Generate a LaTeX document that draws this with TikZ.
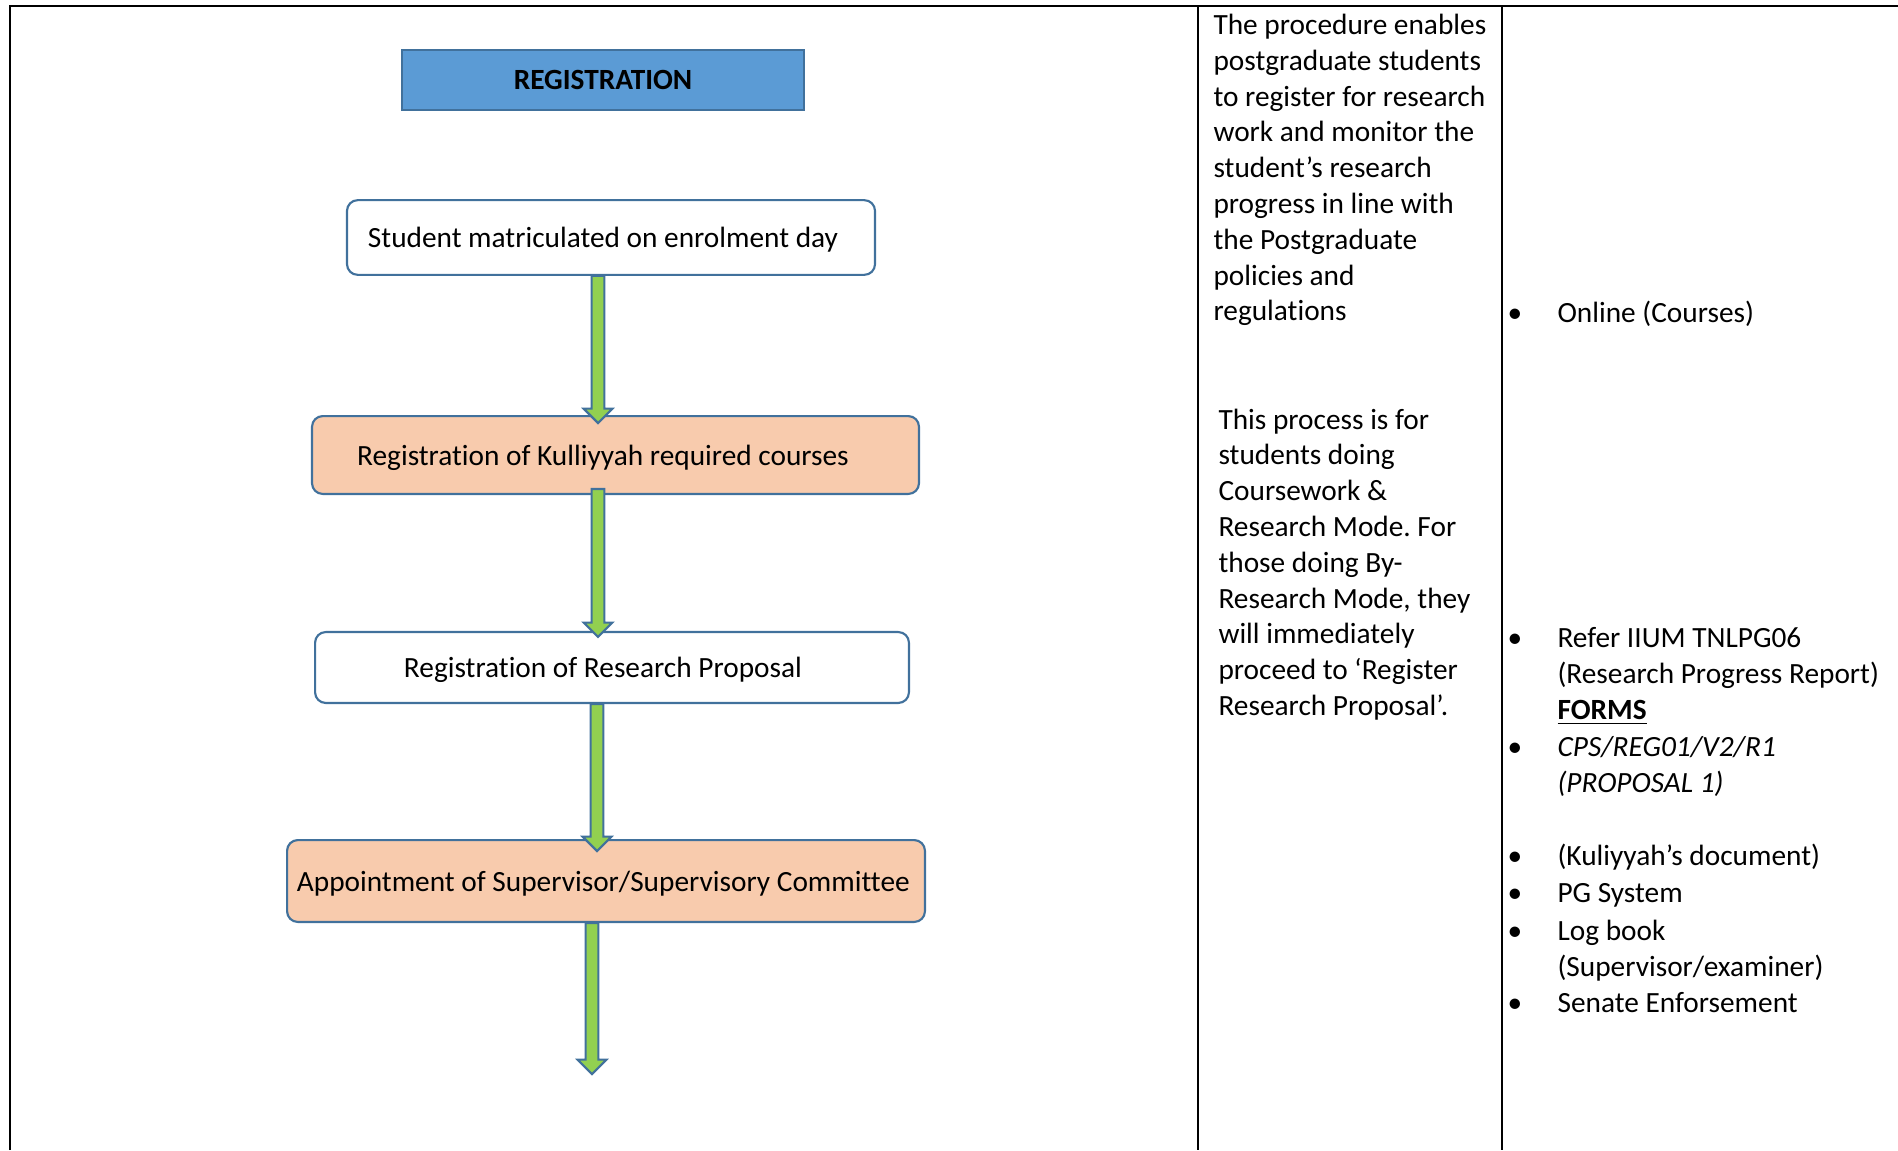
\documentclass[tikz,border=0pt]{standalone}
\usepackage{fontspec}
\setmainfont{Carlito}[RawFeature={-liga;-clig;-dlig;-calt}]
\frenchspacing
\usetikzlibrary{calc}
\definecolor{regblue}{RGB}{91,155,213}
\definecolor{edgeblue}{RGB}{65,113,156}
\definecolor{peach}{RGB}{248,203,173}
\definecolor{arrgreen}{RGB}{146,208,80}
\tikzset{
  every node/.style={font=\fontsize{11pt}{13.4pt}\selectfont, inner sep=0pt},
  stepbox/.style={draw=edgeblue, line width=0.8pt, rounded corners=4pt, fill=white, text height=10pt, text depth=2.5pt},
  peachbox/.style={stepbox, fill=peach},
  titlebox/.style={draw=edgeblue, line width=0.8pt, fill=regblue, font=\fontsize{11pt}{13.4pt}\selectfont\bfseries},
  arrowstyle/.style={draw=edgeblue, line width=0.8pt, fill=arrgreen},
  txt/.style={anchor=base west}
}
\newcommand{\flowarrow}[2]{%
  \path let \p1=(#1), \p2=(#2) in [arrowstyle]
    (\x1-2.4pt,\y1) -- (\x1-2.4pt,\y2+2.4pt) -- (\x1-5.4pt,\y2+2.4pt) -- (\x1,\y2-3pt)
    -- (\x1+5.4pt,\y2+2.4pt) -- (\x1+2.4pt,\y2+2.4pt) -- (\x1+2.4pt,\y1) -- cycle;}

\begin{document}
\begin{tikzpicture}[x=0.375pt,y=-0.375pt]
\useasboundingbox (0,0) rectangle (1898,1150);
\draw [line width=0.9pt] (10,1150) -- (10,6) -- (1898,6);
\draw [line width=0.9pt] (1198,6) -- (1198,1150);
\draw [line width=0.9pt] (1502,6) -- (1502,1150);

\node [titlebox, minimum width=150.75pt, minimum height=22.5pt] (reg) at (603,80) {REGISTRATION};
\node [stepbox, minimum width=198pt, minimum height=28pt] (stud) at (611,237.5) {Student matriculated on enrolment day\hspace*{6pt}};
\node [peachbox, minimum width=227.6pt, minimum height=29.2pt] (kull) at (615.5,455) {Registration of Kulliyyah required courses\hspace*{9.4pt}};
\node [stepbox, minimum width=222.7pt, minimum height=26.6pt] (prop) at (612,667.5) {Registration of Research Proposal\hspace*{6.8pt}};
\node [peachbox, minimum width=239.2pt, minimum height=30.7pt] (app) at (606,881) {Appointment of Supervisor/Supervisory Committee\hspace*{2pt}};

\coordinate (ax) at (598,0);
\coordinate (bx) at (597,0);
\coordinate (end) at (592,1066);
\flowarrow{stud.south -| ax}{kull.north -| ax}
\flowarrow{$(kull.south -| ax)+(0,-6)$}{$(prop.north -| ax)+(0,-2)$}
\flowarrow{prop.south -| bx}{$(app.north -| bx)+(0,4)$}
\flowarrow{app.south -| end}{end}

\foreach \t [count=\i] in {The procedure enables, postgraduate students, to register for research,
  work and monitor the, student’s research, progress in line with, the Postgraduate,
  policies and, regulations}
  \node [txt] (p\i) at (1213,{34.5+35.8*(\i-1)}) {\t};
\foreach \t [count=\i] in {This process is for, students doing, Coursework \&,
  Research Mode. For, those doing By-, {Research Mode, they}, will immediately,
  proceed to ‘Register, Research Proposal’.}
  \node [txt] (q\i) at (1218,{429+35.8*(\i-1)}) {\t};

\foreach \y [count=\i] in {322.6,647,756,865,902,940,1012.6}
  \node [txt] (b\i) at (1507,\y) {•};
\node [txt] (r1) at (1557,322.6) {Online (Courses)};
\node [txt] (r2) at (1557,647) {Refer IIUM TNLPG06};
\node [txt] (r3) at (1557,683) {(Research Progress Report)};
\node [txt] (r4) at (1557,719.6) {\textbf{\underline{FORMS}}};
\node [txt] (r5) at (1557,756) {\textit{CPS/REG01/V2/R1}};
\node [txt] (r6) at (1557,792) {\textit{(PROPOSAL 1)}};
\node [txt] (r7) at (1557,865) {(Kuliyyah’s document)};
\node [txt] (r8) at (1557,902) {PG System};
\node [txt] (r9) at (1557,940) {Log book};
\node [txt] (r10) at (1557,976) {(Supervisor/examiner)};
\node [txt] (r11) at (1557,1012.6) {Senate Enforsement};
\end{tikzpicture}
\end{document}
